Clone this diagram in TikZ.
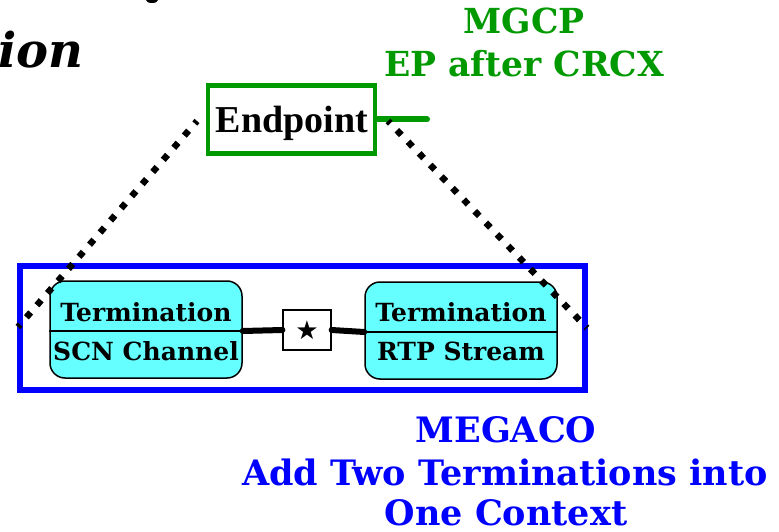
\documentclass[tikz,border=0pt]{standalone}
\usepackage{fontspec}
\setmainfont{DejaVu Serif}
\newfontfamily\timesf{Liberation Serif}
\newfontfamily\symf{DejaVu Sans}
\definecolor{mgreen}{RGB}{0,153,0}
\definecolor{mblue}{RGB}{0,0,255}
\definecolor{tcyan}{RGB}{102,255,255}
\begin{document}
\begin{tikzpicture}[x=1pt,y=-1pt,
 termbox/.style={draw=black, line width=1.5pt, fill=tcyan, rounded corners=15pt, minimum width=192pt, minimum height=97pt, inner sep=0pt},
 termtext/.style={font=\fontsize{25}{25}\selectfont\bfseries, anchor=base, inner sep=0pt},
 gtext/.style={font=\fontsize{34.5}{34.5}\selectfont\bfseries, text=mgreen, anchor=base, inner sep=0pt},
 btext/.style={font=\fontsize{35}{35}\selectfont\bfseries, text=mblue, anchor=base, inner sep=0pt},
 dotline/.style={line width=6.5pt, line cap=butt, dash pattern=on 6.5pt off 9.55pt, dash phase=3.25pt},
 link/.style={line width=6pt, line cap=round},
]
\useasboundingbox (0,0) rectangle (779,532);
% title fragment
\node[anchor=base east, inner sep=0pt, font=\fontsize{48}{48}\selectfont\bfseries\itshape] (title) at (84,68) {ion};
\fill (152,0) ellipse (6 and 3);
% MGCP labels
\node[gtext] (mgcp) at (524,34) {MGCP};
\node[gtext] (mgcp2) at (524,77) {EP after CRCX};
% endpoint
\node[draw=mgreen, line width=4.5pt, minimum width=167pt, minimum height=68pt, inner sep=0pt] (ep) at (291.5,119.5) {};
\node[anchor=base, inner sep=0pt, font=\timesf\fontsize{38}{38}\selectfont\bfseries] (eplabel) at (292,133) {Endpoint};
\coordinate (gend) at (427,119.5);
\draw[link, draw=mgreen] (ep.east) -- (gend);
% context
\node[draw=mblue, line width=5.5pt, minimum width=565pt, minimum height=124pt, inner sep=0pt] (ctx) at (302.5,328) {};
% terminations
\node[termbox] (t1) at (146,329.5) {};
\draw[line width=1.5pt] ([yshift=-1.5pt]t1.west) -- ([yshift=-1.5pt]t1.east);
\node[termtext] (t1a) at (146,321) {Termination};
\node[termtext] (t1b) at (146,360) {SCN Channel};
\node[termbox] (t2) at (461,330.5) {};
\draw[line width=1.5pt] ([yshift=-1.5pt]t2.west) -- ([yshift=-1.5pt]t2.east);
\node[termtext] (t2a) at (461,321) {Termination};
\node[termtext] (t2b) at (461,360) {RTP Stream};
% star box
\node[draw=black, line width=1.2pt, fill=white, minimum width=48pt, minimum height=40pt, inner sep=0pt, font=\symf\fontsize{26}{26}\selectfont] (st) at (307,330) {★};
\draw[link] ([yshift=-1.5pt]t1.east) -- (st.west);
\draw[link] (st.east) -- ([yshift=-1.5pt]t2.west);
% dotted lines
\coordinate (dl1) at (18,327);
\coordinate (dl2) at (197,121);
\coordinate (dr1) at (388,121);
\coordinate (dr2) at (587,328);
\draw[dotline] (dl1) -- (dl2);
\draw[dotline] (dr1) -- (dr2);
% MEGACO labels
\node[btext] (meg1) at (506,442) {MEGACO};
\node[btext] (meg2) at (505,485) {Add Two Terminations into};
\node[btext] (meg3) at (506,525) {One Context};
\end{tikzpicture}
\end{document}
